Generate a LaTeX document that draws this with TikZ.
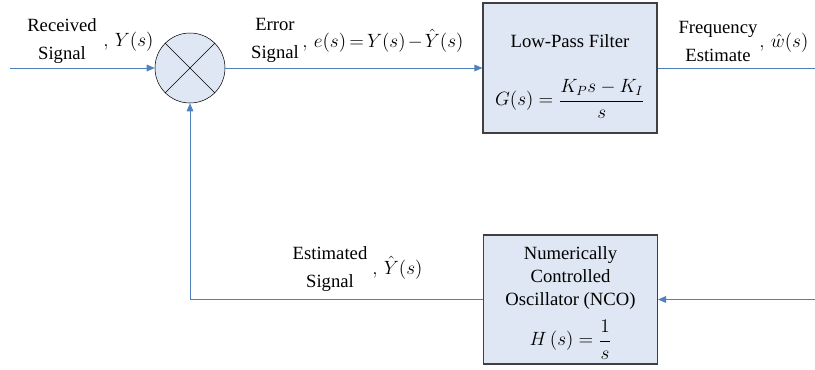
\documentclass[tikz,border=0pt]{standalone}
\usepackage{fontspec}
\setmainfont{Liberation Serif}
\usetikzlibrary{arrows.meta,positioning}
\definecolor{lineblue}{RGB}{79,129,189}
\definecolor{boxfill}{RGB}{222,231,243}
\definecolor{boxdraw}{RGB}{64,64,64}

\begin{document}
\begin{tikzpicture}[x=0.75pt,y=-0.75pt,
    >={Triangle[length=6pt,width=5pt]},
    every node/.style={font=\fontsize{14}{20}\selectfont}]
  \tikzstyle{block}=[rectangle,draw=boxdraw,thick,fill=boxfill,align=center,inner sep=0pt,minimum width=130.5pt]
  \tikzstyle{mixer}=[circle,draw=black,fill=boxfill,minimum size=52.5pt,inner sep=0pt]
  \tikzstyle{signal}=[draw=lineblue,line width=0.75pt]
  \tikzstyle{label}=[align=center,inner sep=1pt,font=\fontsize{14}{21}\selectfont]
  \tikzstyle{sym}=[anchor=west,inner sep=0pt]

  \useasboundingbox (0,0) rectangle (815,369);

  \node[mixer] (mix) at (190,68) {};
  \draw (mix.45) -- (mix.225) (mix.135) -- (mix.315);
  \node[block,minimum height=97.5pt] (lpf) at (570,68)
      {\rule{0pt}{22.5pt}Low-Pass Filter\\[24pt] $\displaystyle G(s)=\frac{K_P s-K_I}{s}$};
  \node[block,minimum height=96.75pt,font=\fontsize{14}{17}\selectfont] (nco) at (570.5,299.5)
      {\rule{0pt}{15pt}Numerically\\Controlled\\Oscillator (NCO)\\[7.5pt] $\displaystyle H\,(s)=\frac{1}{s}$};

  \coordinate (in) at (10,68);
  \coordinate (out) at (815,68);
  \coordinate (ref) at (815,299.5);

  \draw[signal,->] (in) -- (mix);
  \draw[signal,->] (mix) -- (lpf);
  \draw[signal] (lpf) -- (out);
  \draw[signal,->] (ref) -- (nco);
  \draw[signal,->] (nco) -| (mix);

  % signal labels
  \node[label] (rxtxt) at (62,41) {Received\\Signal};
  \node[sym] (rxsym) at (103,42) {$,\,Y(s)$};
  \node[label] (errtxt) at (275,40) {Error\\Signal};
  \node[sym] (errsym) at (302,41)
      {\thickmuskip=3mu\medmuskip=2mu$,\,e(s)=Y(s)-\hat{Y}(s)$};
  \node[label] (freqtxt) at (718,41) {Frequency\\Estimate};
  \node[sym] (freqsym) at (759,43) {$,\,\hat{w}(s)$};
  \node[label] (esttxt) at (330,269) {Estimated\\Signal};
  \node[sym] (estsym) at (372,268) {$,\,\hat{Y}(s)$};
\end{tikzpicture}
\end{document}
